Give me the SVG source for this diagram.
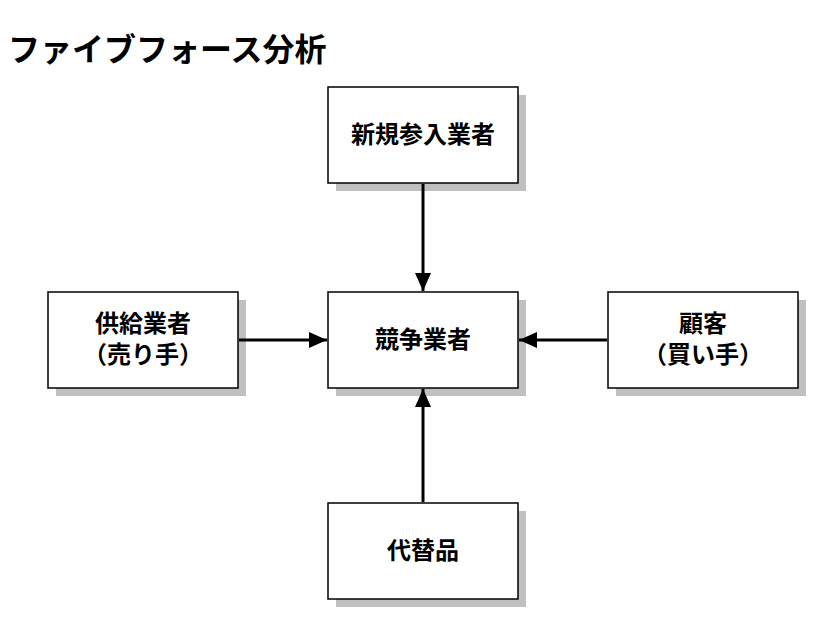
<svg xmlns="http://www.w3.org/2000/svg" width="821" height="642" viewBox="0 0 821 642">
<defs>
<style>
.sh{fill:#c0c0c0}
.bx{fill:#fff;stroke:#000;stroke-width:1.5}
.t{font-family:"Noto Sans CJK JP",sans-serif;font-weight:bold;font-size:24px;text-anchor:middle;fill:#000}
.ln{stroke:#000;stroke-width:3;fill:none}
</style>
<marker id="ah" viewBox="0 0 18 16" refX="18" refY="8" markerWidth="18" markerHeight="16" markerUnits="userSpaceOnUse" orient="auto">
<path d="M0,0 L18,8 L0,16 z" fill="#000"/>
</marker>
</defs>
<rect width="821" height="642" fill="#fff"/>
<text x="8" y="61" style="font-family:'Noto Sans CJK JP',sans-serif;font-weight:bold;font-size:32px">ファイブフォース分析</text>
<g id="n-new"><rect class="sh" x="336" y="95" width="190" height="96"/><rect class="bx" x="328" y="87" width="190" height="96"/><text class="t" x="423" y="143">新規参入業者</text></g>
<g id="n-comp"><rect class="sh" x="336" y="300" width="190" height="96"/><rect class="bx" x="328" y="292" width="190" height="96"/><text class="t" x="423" y="348">競争業者</text></g>
<g id="n-sup"><rect class="sh" x="56" y="300" width="190" height="96"/><rect class="bx" x="48" y="292" width="190" height="96"/><text class="t" x="143" y="332">供給業者</text><text class="t" x="143" y="363">（売り手）</text></g>
<g id="n-cus"><rect class="sh" x="616" y="300" width="190" height="96"/><rect class="bx" x="608" y="292" width="190" height="96"/><text class="t" x="703" y="332">顧客</text><text class="t" x="703" y="363">（買い手）</text></g>
<g id="n-sub"><rect class="sh" x="336" y="511" width="190" height="96"/><rect class="bx" x="328" y="503" width="190" height="96"/><text class="t" x="423" y="559">代替品</text></g>
<g id="connectors">
<line class="ln" x1="423" y1="184" x2="423" y2="291" marker-end="url(#ah)"/>
<line class="ln" x1="239" y1="340" x2="327" y2="340" marker-end="url(#ah)"/>
<line class="ln" x1="607" y1="340" x2="519" y2="340" marker-end="url(#ah)"/>
<line class="ln" x1="423" y1="502" x2="423" y2="389" marker-end="url(#ah)"/>
</g>
</svg>
